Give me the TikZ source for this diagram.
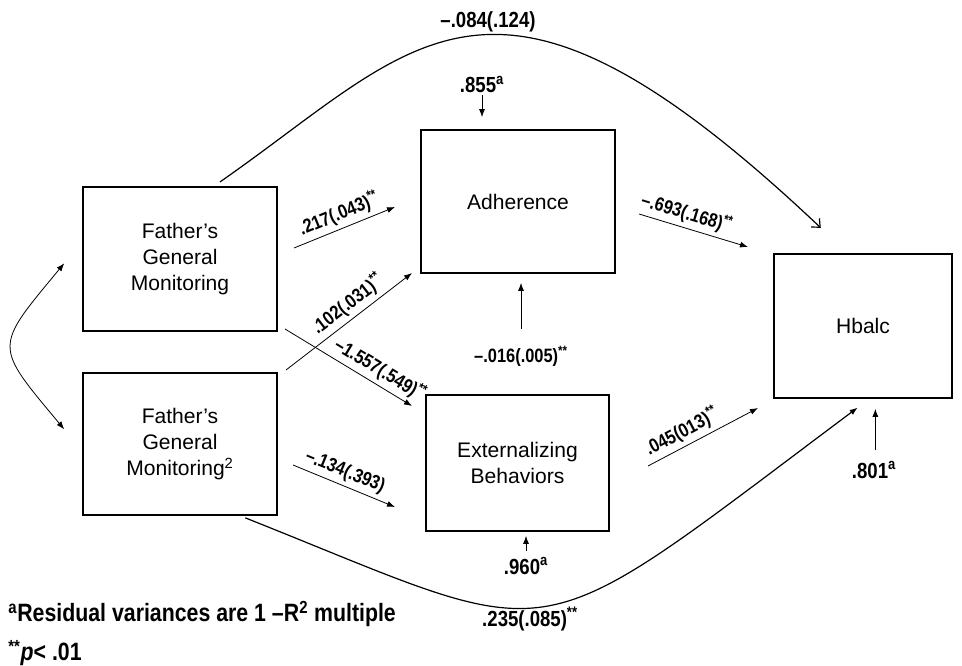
\documentclass[tikz,border=0pt]{standalone}
\usepackage{fontspec}
\setmainfont{Liberation Sans}
\newfontfamily\condbf{Liberation Sans}[FakeStretch=0.85]
\usetikzlibrary{arrows.meta}

\begin{document}
\begin{tikzpicture}[x=0.75pt,y=-0.75pt,>={Latex[length=6pt,width=4.5pt]},line width=0.6pt]
 \tikzstyle{box}=[draw,line width=1.3pt,rectangle,minimum width=145.5pt,minimum height=108pt,align=center,font=\fontsize{15.8}{19.5}\selectfont]
 \tikzstyle{lbl}=[font=\condbf\bfseries\fontsize{14.5}{17}\selectfont,inner sep=1pt]
 \tikzstyle{res}=[font=\condbf\bfseries\fontsize{16.4}{19}\selectfont,inner sep=1pt]
 \tikzstyle{foot}=[font=\condbf\bfseries\fontsize{18.8}{21}\selectfont,inner sep=0pt,anchor=west]
 \useasboundingbox (0,0) rectangle (962,666);

   % the five boxes
   \node[box] (fgm) at (180,259) {Father’s\\General\\Monitoring};
   \node[box,minimum height=106.5pt] (fgmsq) at (180,444) {Father’s\\General\\Monitoring\textsuperscript{2}};
   \node[box,minimum height=107.25pt] (adh) at (518,201.5) {Adherence};
   \node[box,minimum width=137.25pt,minimum height=102pt] (ext) at (517.5,463) {Externalizing\\Behaviors};
   \node[box,minimum width=133.5pt] (hba) at (863,326) {Hbalc};

   % residual variances
   \node[res,anchor=base] (r855) at (482,93) {.855\textsuperscript{a}};
   \node[res,anchor=base] (r960) at (526,574) {.960\textsuperscript{a}};
   \node[res,anchor=base] (r801) at (874,478) {.801\textsuperscript{a}};
   \node[lbl,anchor=base] (l016) at (521,362) {–.016(.005)\textsuperscript{**}};

   \draw[->,shorten >=9pt] (r855.south) -- (r855.south |- adh.north);
   \draw[->,shorten <=3.5pt,shorten >=3pt] (r960.north) -- (r960.north |- ext.south);
   \draw[->,shorten <=7.5pt,shorten >=7.5pt] ([xshift=1pt]r801.north) -- ([xshift=1pt]r801.north |- hba.south);
   \draw[->,shorten <=11pt,shorten >=6.75pt] (l016.north) -- (l016.north |- adh.south);

   % free ends of the straight paths
   \coordinate (s1) at (294,248);  \coordinate (e1) at (395,207);
   \coordinate (s2) at (286,370);  \coordinate (e2) at (412,273);
   \coordinate (s3) at (285,329);  \coordinate (e3) at (412,406);
   \coordinate (s4) at (293,465);  \coordinate (e4) at (395,507);
   \coordinate (s5) at (639,214);  \coordinate (e5) at (748,247);
   \coordinate (s6) at (648,466);  \coordinate (e6) at (758,408);

   \draw[->] (s1) -- node[lbl,sloped,above=2pt,pos=.5] {.217(.043)\textsuperscript{**}} (e1);
   \draw[->] (s2) -- node[lbl,sloped,above=2pt,pos=.56] {.102(.031)\textsuperscript{**}} (e2);
   \draw[->] (s3) -- node[lbl,sloped,above=2pt,pos=.69] {–1.557(.549)\textsuperscript{**}} (e3);
   \draw[->] (s4) -- node[lbl,sloped,above=2pt,pos=.46] {–.134(.393)} (e4);
   \draw[->] (s5) -- node[lbl,sloped,above=2pt,pos=.4] {–.693(.168)\textsuperscript{**}} (e5);
   \draw[->] (s6) -- node[lbl,sloped,above=2pt,pos=.37] {.045(013)\textsuperscript{**}} (e6);

   % curved paths
   \draw[<->,shorten <=21pt,shorten >=21pt] (fgm.170) .. controls (-6.4,348.5) and (-6.4,344.5) .. (fgmsq.184);
   \draw[-{Straight Barb[length=5pt,width=9pt]},line width=0.9pt,shorten <=5.5pt,shorten >=27.6pt]
     (fgm.65) .. controls (420.7,42) and (492,-83) .. (hba.102);
   \draw[->,line width=0.9pt,shorten <=4pt,shorten >=11pt]
     (fgmsq.-50) .. controls (570,647) and (520,660) .. (hba.-85);
   \node[res] (c084) at (488,22) {–.084(.124)};
   \node[res] (c235) at (530,619) {.235(.085)\textsuperscript{**}};

   % notes
   \node[foot] (n1) at (8,614) {\textsuperscript{a}Residual variances are 1 –R\textsuperscript{2} multiple};
   \node[foot] (n2) at (8,653) {\textsuperscript{**}\textit{p}< .01};
\end{tikzpicture}
\end{document}
